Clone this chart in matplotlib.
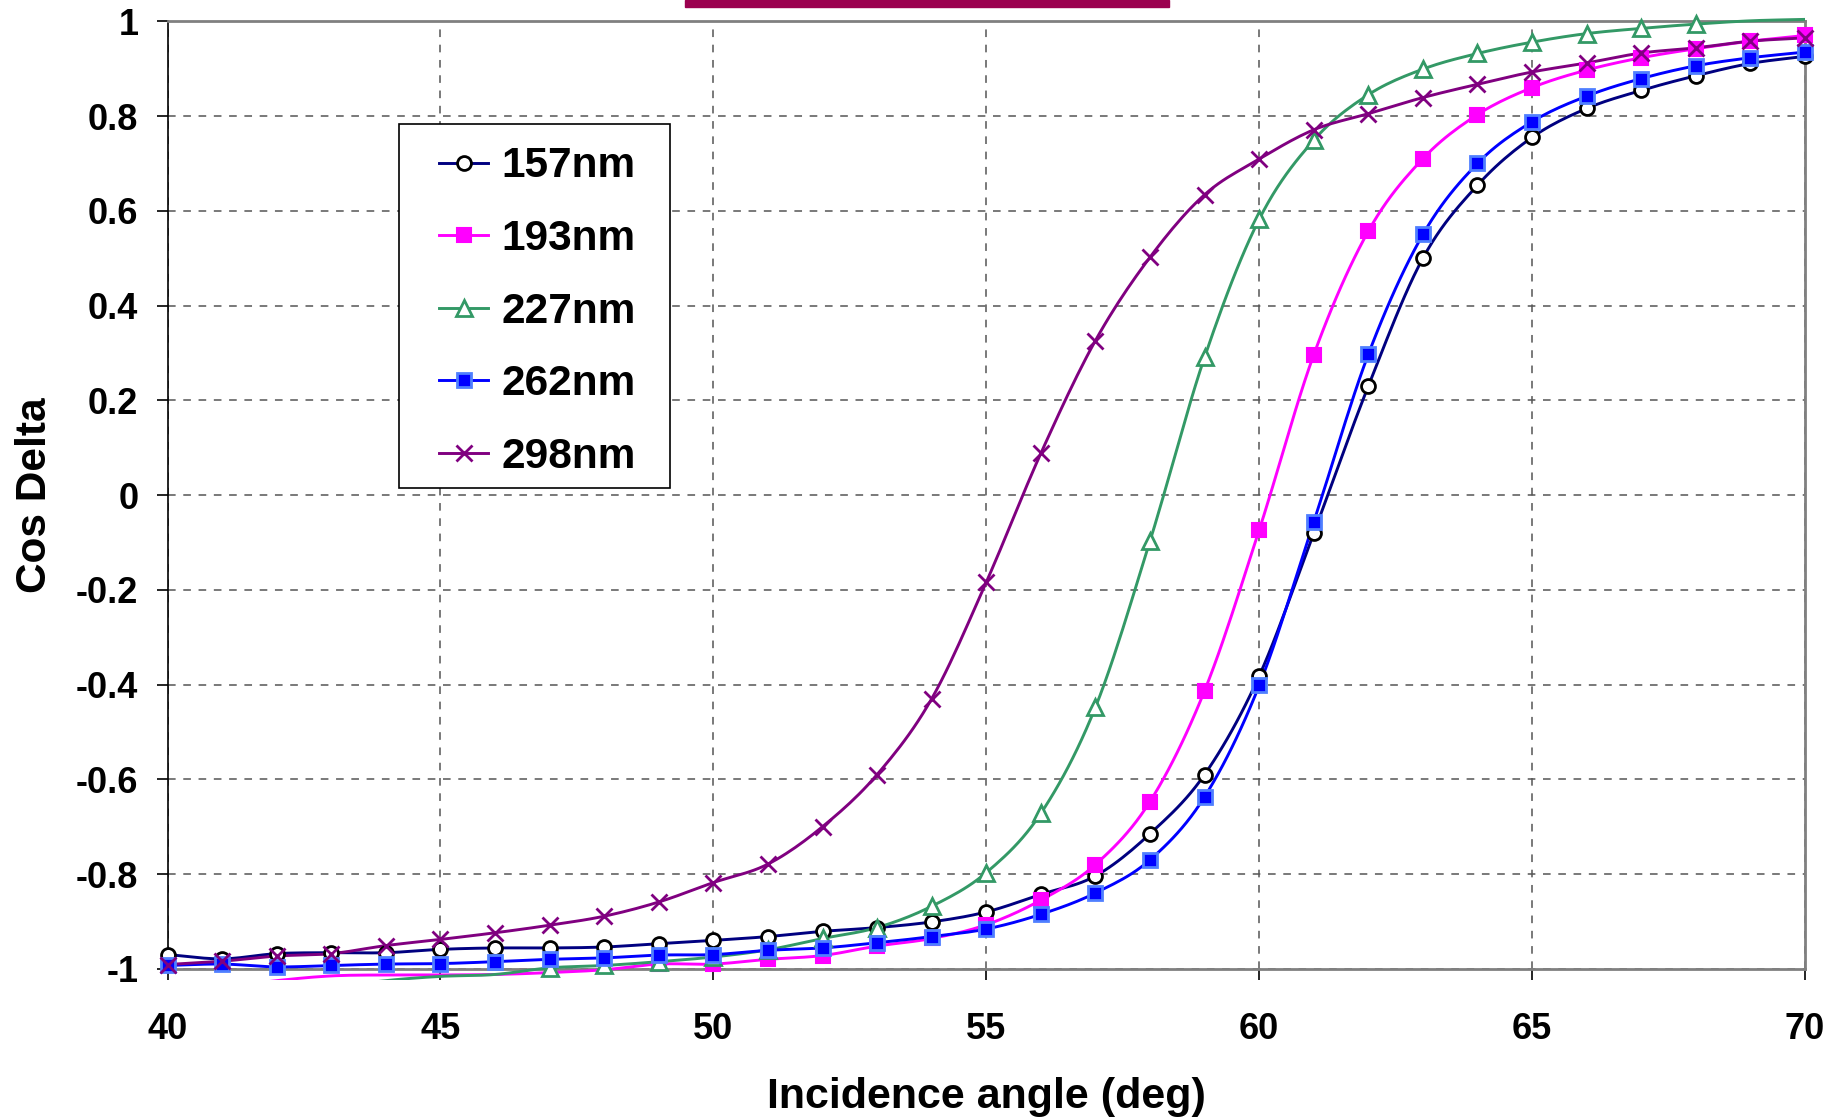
import numpy as np
import matplotlib
matplotlib.use("Agg")
from matplotlib import pyplot as plt
from matplotlib.lines import Line2D
from matplotlib.patches import Rectangle

# incidence angles (deg)
angles = list(range(40, 71))

# Cos Delta for each wavelength, one value per degree
cos_157 = [-0.970, -0.979, -0.968, -0.966, -0.966, -0.959, -0.956, -0.956, -0.954, -0.947,
           -0.940, -0.932, -0.921, -0.913, -0.901, -0.880, -0.843, -0.804, -0.715, -0.590,
           -0.382, -0.080, 0.230, 0.500, 0.654, 0.755, 0.816, 0.854, 0.885, 0.911, 0.926]
cos_193 = [-1.060, -1.040, -1.025, -1.015, -1.013, -1.013, -1.012, -1.008, -1.002, -0.990,
           -0.990, -0.980, -0.972, -0.952, -0.936, -0.907, -0.855, -0.780, -0.647, -0.413,
           -0.074, 0.296, 0.557, 0.710, 0.803, 0.860, 0.897, 0.923, 0.942, 0.958, 0.970]
cos_227 = [-1.100, -1.080, -1.060, -1.040, -1.025, -1.016, -1.012, -0.998, -0.993, -0.985,
           -0.975, -0.960, -0.936, -0.913, -0.868, -0.797, -0.672, -0.448, -0.097, 0.291,
           0.582, 0.749, 0.845, 0.899, 0.932, 0.956, 0.974, 0.985, 0.994, 1.001, 1.004]
cos_262 = [-0.993, -0.990, -0.996, -0.993, -0.990, -0.989, -0.985, -0.980, -0.977, -0.971,
           -0.970, -0.961, -0.956, -0.945, -0.932, -0.916, -0.885, -0.840, -0.770, -0.637,
           -0.402, -0.057, 0.297, 0.550, 0.700, 0.788, 0.842, 0.879, 0.906, 0.923, 0.935]
cos_298 = [-0.991, -0.984, -0.973, -0.968, -0.951, -0.938, -0.924, -0.908, -0.889, -0.859,
           -0.818, -0.779, -0.700, -0.590, -0.430, -0.184, 0.088, 0.326, 0.502, 0.634,
           0.709, 0.771, 0.805, 0.839, 0.867, 0.893, 0.912, 0.933, 0.944, 0.958, 0.965]

labels = ["157nm", "193nm", "227nm", "262nm", "298nm"]
series = [cos_157, cos_193, cos_227, cos_262, cos_298]

x_ticks = [40, 45, 50, 55, 60, 65, 70]
y_ticks = [-1, -0.8, -0.6, -0.4, -0.2, 0, 0.2, 0.4, 0.6, 0.8, 1]
y_tick_labels = ["-1", "-0.8", "-0.6", "-0.4", "-0.2", "0", "0.2", "0.4", "0.6", "0.8", "1"]

styles = [
    dict(color="#000080", marker="o", mfc="white", mec="black", ms=10, mew=2.0),
    dict(color="#FF00FF", marker="s", mfc="#FF00FF", mec="#FF00FF", ms=10, mew=1.5),
    dict(color="#339966", marker="^", mfc="white", mec="#339966", ms=11, mew=2.0),
    dict(color="#0000FF", marker="s", mfc="#0000FF", mec="#4F7FFF", ms=10, mew=2.0),
    dict(color="#800080", marker="x", mfc="#800080", mec="#800080", ms=12, mew=2.0),
]


def smooth(x, y, n=12):
    # Catmull-Rom style smoothing like the spreadsheet "smoothed line"
    x = np.asarray(x, float)
    y = np.asarray(y, float)
    px = np.concatenate([[2 * x[0] - x[1]], x, [2 * x[-1] - x[-2]]])
    py = np.concatenate([[2 * y[0] - y[1]], y, [2 * y[-1] - y[-2]]])
    t = np.linspace(0, 1, n, endpoint=False)
    xs, ys = [], []
    for i in range(1, len(px) - 2):
        for p, out in ((px, xs), (py, ys)):
            p0, p1, p2, p3 = p[i - 1], p[i], p[i + 1], p[i + 2]
            out.extend(0.5 * (2 * p1 + (-p0 + p2) * t + (2 * p0 - 5 * p1 + 4 * p2 - p3) * t ** 2
                              + (-p0 + 3 * p1 - 3 * p2 + p3) * t ** 3))
    xs.append(x[-1])
    ys.append(y[-1])
    return np.array(xs), np.array(ys)


plt.rcParams['font.family'] = ['Liberation Sans', 'DejaVu Sans']
plt.rcParams['font.weight'] = 'bold'

fig = plt.figure(figsize=(18.49, 11.2), dpi=100)
ax = fig.add_axes([0.0906, 0.135, 0.8856, 0.846])

clip = Rectangle((0, -0.012), 1, 1.024, transform=ax.transAxes, visible=False)
ax.add_patch(clip)

handles = []
for vals, lab, st in zip(series, labels, styles):
    sx, sy = smooth(angles, vals)
    ln, = ax.plot(sx, sy, color=st["color"], lw=2.1, zorder=3)
    ln.set_clip_path(clip)
    inside = [(-1.0 <= v <= 1.0) for v in vals]
    ax.plot(angles, vals, ls="none", marker=st["marker"], mfc=st["mfc"], mec=st["mec"],
            ms=st["ms"], mew=st["mew"], markevery=inside, zorder=4, clip_on=False)
    handles.append(Line2D([], [], color=st["color"], lw=2.1, marker=st["marker"], mfc=st["mfc"],
                          mec=st["mec"], ms=st["ms"], mew=st["mew"], label=lab))

ax.set_xlim(40, 70)
ax.set_ylim(-1, 1)
ax.set_xticks(x_ticks)
ax.set_yticks(y_ticks)
ax.set_yticklabels(y_tick_labels)
ax.tick_params(axis="both", labelsize=26, length=8, width=1.2, direction="out")
ax.tick_params(axis="y", pad=13)
ax.tick_params(axis="x", pad=23)
ax.grid(True, color="#555555", ls=(0, (5, 5)), lw=1.1)
for side in ["top", "right", "bottom"]:
    ax.spines[side].set_color("#808080")
    ax.spines[side].set_linewidth(2.0)
ax.spines["left"].set_color("black")
ax.spines["left"].set_linewidth(1.2)

ax.set_xlabel("Incidence angle (deg)", fontsize=31, fontweight="bold", labelpad=22)
ax.set_ylabel("Cos Delta", fontsize=30.5, fontweight="bold", labelpad=15)

# legend box drawn on its own, entries placed inside it
box = Rectangle((0.1411, 0.5074), 0.1656, 0.3842, transform=ax.transAxes,
                facecolor="white", edgecolor="black", lw=1.2, zorder=5)
ax.add_patch(box)
leg = ax.legend(handles=handles, loc="upper left", bbox_to_anchor=(0.1657, 0.868),
                borderaxespad=0, borderpad=0, fontsize=30.5, frameon=False,
                handlelength=1.17, labelspacing=0.77, handletextpad=0.3)
leg.set_zorder(6)

fig.patches.append(Rectangle((685 / 1849, 1 - 7 / 1120), 484 / 1849, 7 / 1120,
                             transform=fig.transFigure, color="#9B004F"))

fig.savefig("out.png", dpi=100)
